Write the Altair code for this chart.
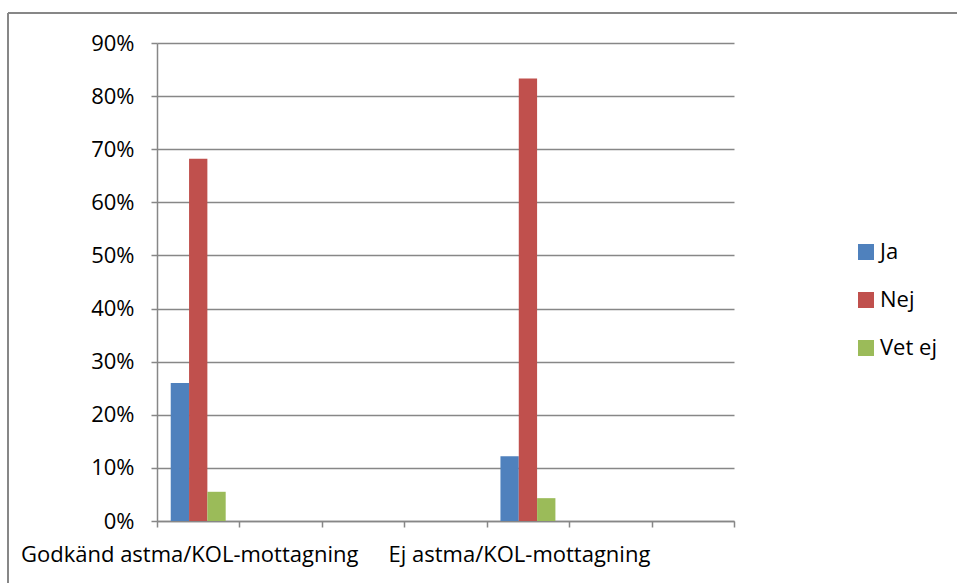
import altair as alt
import pandas as pd

# Category slots along the x axis (blank slots keep their place on the axis)
categories = ["Godkänd astma/KOL-mottagning", " ", "  ", "   ",
              "Ej astma/KOL-mottagning", "    ", "     "]
groups = ["Godkänd astma/KOL-mottagning", "Ej astma/KOL-mottagning"]
series = ["Ja", "Nej", "Vet ej"]
colors = ["#4F81BD", "#C0504D", "#9BBB59"]

ja = [0.26, 0.122]
nej = [0.682, 0.833]
vet_ej = [0.055, 0.043]

rows = []
for i, g in enumerate(groups):
    for s, vals in zip(series, [ja, nej, vet_ej]):
        rows.append({"grupp": g, "svar": s, "andel": vals[i]})
df = pd.DataFrame(rows)

FONT = "Open Sans"
FS = 22
GREY = "#878787"
W, H = 577, 478
LEFT, TOP = 157, 43

bars = alt.Chart(df).mark_bar().encode(
    x=alt.X("grupp:N", sort=categories,
            scale=alt.Scale(domain=categories, paddingInner=0, paddingOuter=0),
            axis=alt.Axis(title=None, labelAngle=0, tickBand="extent",
                          labelFont=FONT, labelFontSize=FS, labelColor="#000000",
                          labelPadding=17, labelOffset=-9, labelOverlap=False,
                          labelLimit=0, tickSize=6, tickColor=GREY, tickWidth=1.5,
                          domainColor=GREY, domainWidth=1.5, grid=False)),
    xOffset=alt.XOffset("svar:N", sort=series,
                        scale=alt.Scale(domain=series, paddingInner=0, paddingOuter=0.75)),
    y=alt.Y("andel:Q",
            scale=alt.Scale(domain=[0, 0.9], nice=False),
            axis=alt.Axis(title=None, values=[i / 10 for i in range(10)], format=".0%",
                          labelFont=FONT, labelFontSize=FS, labelColor="#000000",
                          labelPadding=17, tickSize=6, tickColor=GREY, tickWidth=1.5,
                          domainColor=GREY, domainWidth=1.5,
                          grid=True, gridColor=GREY, gridWidth=1.5)),
    color=alt.Color("svar:N", sort=series,
                    scale=alt.Scale(domain=series, range=colors),
                    legend=alt.Legend(title=None, orient="none", legendX=698, legendY=198,
                                      symbolType="square", symbolSize=256,
                                      symbolStrokeWidth=0, labelFont=FONT,
                                      labelFontSize=FS, labelColor="#000000",
                                      labelOffset=3, rowPadding=26, padding=0)),
)

# Outer chart frame (left and top edges)
frame_left = alt.Chart(df).mark_rule(color=GREY, strokeWidth=1.5).encode(
    x=alt.value(8 - LEFT), y=alt.value(13 - TOP), y2=alt.value(583)
)
frame_top = alt.Chart(df).mark_rule(color=GREY, strokeWidth=1.5).encode(
    x=alt.value(8 - LEFT), x2=alt.value(957), y=alt.value(13 - TOP)
)

chart = alt.layer(frame_left, frame_top, bars).properties(
    width=W, height=H,
    padding={"left": LEFT, "top": TOP, "right": 957 - LEFT - W, "bottom": 583 - TOP - H},
    autosize=alt.AutoSizeParams(type="none"),
    background="white",
).configure_view(stroke=None)

chart.save("out.html", embed_options={"renderer": "svg", "actions": False})
